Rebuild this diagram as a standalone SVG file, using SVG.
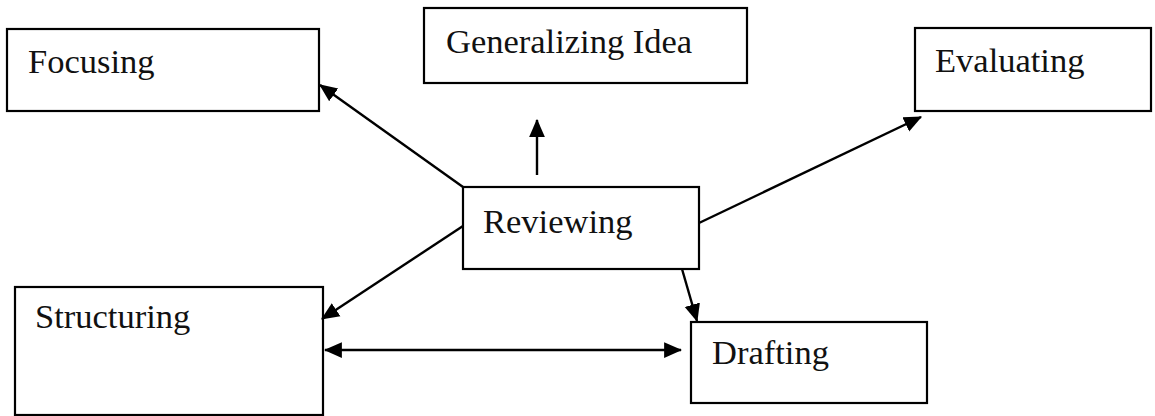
<svg xmlns="http://www.w3.org/2000/svg" width="1155" height="416" viewBox="0 0 1155 416">
<style>
.box{fill:#fff;stroke:#000;stroke-width:2.2}
.lbl{font-family:"Liberation Serif","Times New Roman",serif;font-size:34.5px;fill:#111}
.conn{stroke:#000;stroke-width:2.4;fill:none}
</style>
<defs>
<marker id="ah" markerUnits="userSpaceOnUse" markerWidth="18" markerHeight="18" viewBox="0 0 16 16" refX="15" refY="8" orient="auto-start-reverse">
<path d="M0,1 L16,8 L0,15 Z" fill="#000"/>
</marker>
</defs>
<rect width="1155" height="416" fill="#fff"/>
<g id="focusing"><rect class="box" x="7" y="29" width="312" height="82"/><text class="lbl" x="28" y="73">Focusing</text></g>
<g id="generalizing"><rect class="box" x="424" y="8" width="323" height="75"/><text class="lbl" x="446" y="53">Generalizing Idea</text></g>
<g id="evaluating"><rect class="box" x="915" y="28" width="236" height="83"/><text class="lbl" x="935" y="72">Evaluating</text></g>
<g id="reviewing"><rect class="box" x="463" y="187" width="236" height="82"/><text class="lbl" x="483" y="233">Reviewing</text></g>
<g id="structuring"><rect class="box" x="15" y="287" width="308" height="128"/><text class="lbl" x="35" y="328">Structuring</text></g>
<g id="drafting"><rect class="box" x="691" y="322" width="236" height="81"/><text class="lbl" x="712" y="364">Drafting</text></g>
<g id="connectors">
<line class="conn" x1="463" y1="187" x2="320" y2="85" marker-end="url(#ah)"/>
<line class="conn" x1="537" y1="175" x2="537" y2="120" marker-end="url(#ah)"/>
<line class="conn" x1="699" y1="223" x2="921" y2="117" marker-end="url(#ah)"/>
<line class="conn" x1="463" y1="226" x2="322" y2="319" marker-end="url(#ah)"/>
<line class="conn" x1="682" y1="269" x2="697" y2="321" marker-end="url(#ah)"/>
<line class="conn" x1="325" y1="350" x2="681" y2="350" marker-start="url(#ah)" marker-end="url(#ah)"/>
</g>
</svg>
